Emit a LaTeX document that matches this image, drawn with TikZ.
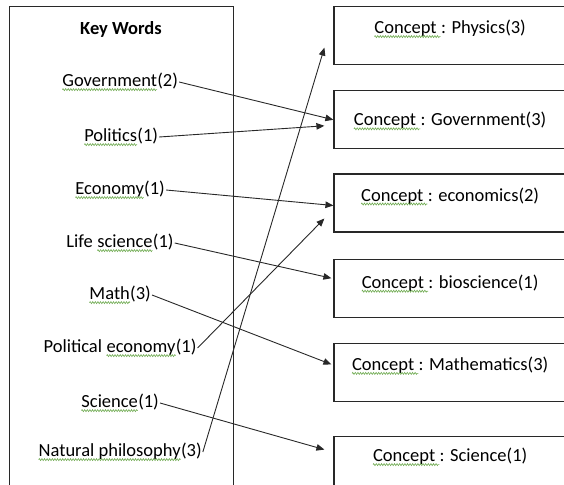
\documentclass[tikz,border=0pt]{standalone}
\usepackage{fontspec}
\setmainfont{Carlito}
\usepackage{tikz}
\usetikzlibrary{positioning, arrows.meta, decorations.pathmorphing}
\definecolor{edge}{RGB}{40, 40, 40}
\definecolor{sqgreen}{RGB}{110, 170, 80}
% spell-check squiggle under a word
\newcommand{\spell}[1]{\tikz[baseline=(sq.base)]{%
  \node[inner sep=0pt, outer sep=0pt, draw=none, anchor=center,
        text height=, text depth=, minimum width=0pt, minimum height=0pt] (sq) {#1};
  \draw[sqgreen, line width=0.6pt, decorate,
        decoration={zigzag, amplitude=1pt, segment length=2.6pt}]
    ([yshift=-3pt]sq.base west) -- ([yshift=-3pt]sq.base east);}}

\begin{document}
\begin{tikzpicture}[
    x=1pt, y=-1pt,
    keybox/.style={
        draw=edge,
        line width=1.2pt,
        minimum width=224pt,
        minimum height=490pt,
        anchor=north west
    },
    word/.style={
        font=\fontsize{18.5}{21}\selectfont,
        inner sep=1pt
    },
    concept/.style={
        draw=edge,
        line width=1.2pt,
        font=\fontsize{18.5}{21}\selectfont,
        minimum width=232pt,
        inner ysep=0pt,
        text height=27pt,
        text depth=31pt
    },
    link/.style={
        -{Triangle[length=8pt, width=6.5pt]},
        line width=0.9pt,
        edge
    }
]
\useasboundingbox (0,0) rectangle (564,484);

% === Key words ===
\node[keybox] (kw) at (9,6) {};
\node[word, font=\fontsize{18.5}{21}\selectfont\bfseries] (title) at (121,29) {Key Words};

\node[word] (gov)  at (120,82)  {\spell{Government}(2)};
\node[word] (pol)  at (121,137) {\spell{Politics}(1)};
\node[word] (eco)  at (120,190) {\spell{Economy}(1)};
\node[word] (life) at (120,243) {Life \spell{science}(1)};
\node[word] (math) at (120,295) {\spell{Math}(3)};
\node[word] (peco) at (120,348) {Political \spell{economy}(1)};
\node[word] (sci)  at (120,403) {\spell{Science}(1)};
\node[word] (nat)  at (120,452) {\spell{Natural philosophy}(3)};

% === Concepts ===
\node[concept, anchor=north] (cphy) at (450,6) {\spell{Concept\kern0.22em}: Physics(3)};
\node[concept, below=25pt of cphy, text height=35pt, text depth=23pt] (cgov) {\spell{Concept\kern0.22em}: Government(3)};
\node[concept, below=24pt of cgov] (cecon) {\spell{Concept\kern0.22em}: economics(2)};
\node[concept, below=26pt of cecon, text height=29pt, text depth=29pt] (cbio) {\spell{Concept\kern0.22em}: bioscience(1)};
\node[concept, below=25pt of cbio] (cmath) {\spell{Concept\kern0.22em}: Mathematics(3)};
\node[concept, below=34pt of cmath, text height=25pt, text depth=33pt] (csci) {\spell{Concept\kern0.22em}: Science(1)};

% === Links ===
\draw[link] (gov.east)  -- (cgov.west);
\draw[link] (pol.east)  -- ([xshift=-9pt, yshift=-6pt]cgov.west);
\draw[link] (eco.east)  -- ([yshift=-2.5pt]cecon.west);
\draw[link] (life.east) -- ([xshift=-2pt, yshift=10pt]cbio.west);
\draw[link] (math.east) -- ([xshift=-2pt, yshift=8pt]cmath.west);
\draw[link] (peco.east) -- ([xshift=-9pt, yshift=-15.5pt]cecon.west);
\draw[link] (sci.east)  -- ([xshift=-9pt, yshift=16pt]csci.west);
\draw[link] (nat.east)  -- ([xshift=-9pt, yshift=-12pt]cphy.west);

\end{tikzpicture}
\end{document}
